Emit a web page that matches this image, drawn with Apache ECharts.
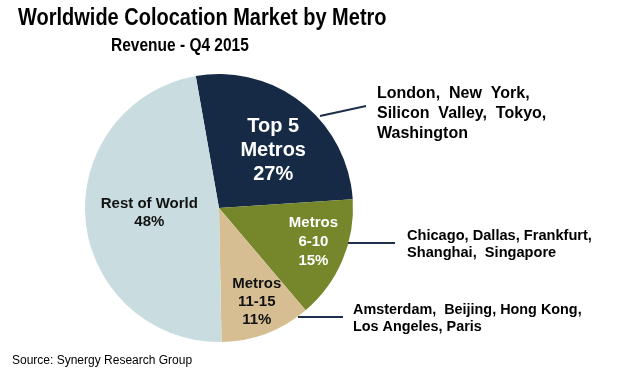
<!DOCTYPE html>
<html>
<head>
<meta charset="utf-8">
<script src="https://cdn.jsdelivr.net/npm/echarts@6/dist/echarts.min.js"></script>
<style>
html,body{margin:0;padding:0;background:#fff;}
#chart{width:632px;height:375px;}
</style>
</head>
<body>
<div id="chart"></div>
<script>
// ---- data ----
const segmentNames = ['Top 5\nMetros', 'Metros\n6-10', 'Metros\n11-15', 'Rest of World'];
const segmentShares = [27, 15, 11, 48];
const segmentColors = ['#162a46', '#76862a', '#d6be92', '#c9dde0'];
const labelColors = ['#ffffff', '#ffffff', '#111111', '#111111'];
const metroLists = [
  'London,  New  York,\nSilicon  Valley,  Tokyo,\nWashington',
  'Chicago, Dallas, Frankfurt,\nShanghai,  Singapore',
  'Amsterdam,  Beijing, Hong Kong,\nLos Angeles, Paris'
];
const titleText = 'Worldwide Colocation Market by Metro';
const subtitleText = 'Revenue - Q4 2015';
const sourceText = 'Source: Synergy Research Group';

// ---- styling / layout ----
const FONT = 'Liberation Sans, Arial, sans-serif';
const labelFontSizes = [20, 15, 15, 15];
const labelLineHeights = [24, 19, 18, 18];
const labelShift = [[11, -2], [30, 7], [13, 28], [0, -2]];

const data = segmentNames.map((n, i) => ({
  name: n,
  value: segmentShares[i],
  itemStyle: { color: segmentColors[i] },
  label: {
    color: labelColors[i],
    fontSize: labelFontSizes[i],
    lineHeight: labelLineHeights[i]
  }
}));

const annot = [
  { text: metroLists[0], x: 377, y: 84, size: 16, lh: 20, line: [[320, 116], [366, 106]] },
  { text: metroLists[1], x: 407, y: 227, size: 14.6, lh: 17.5, line: [[348, 243], [395, 243]] },
  { text: metroLists[2], x: 353, y: 301, size: 14.4, lh: 17.5, line: [[298, 317], [343, 317]] }
];
const graphics = [];
annot.forEach(a => {
  graphics.push({
    type: 'line',
    shape: { x1: a.line[0][0], y1: a.line[0][1], x2: a.line[1][0], y2: a.line[1][1] },
    style: { stroke: '#1d2f4a', lineWidth: 2 },
    z: 10
  });
  graphics.push({
    type: 'text',
    x: a.x, y: a.y,
    style: {
      text: a.text, fill: '#000', font: 'bold ' + a.size + 'px ' + FONT,
      lineHeight: a.lh, verticalAlign: 'top'
    },
    z: 10
  });
});
// title & subtitle (slightly taller glyphs as in the reference)
graphics.push({
  type: 'text', x: 18, y: 7, scaleY: 1.15,
  style: { text: titleText, fill: '#000', font: 'bold 20px ' + FONT, verticalAlign: 'top' },
  z: 10
});
graphics.push({
  type: 'text', x: 111, y: 37, scaleY: 1.15,
  style: { text: subtitleText, fill: '#000', font: 'bold 15.5px ' + FONT, verticalAlign: 'top' },
  z: 10
});
graphics.push({
  type: 'text', x: 12, y: 355,
  style: { text: sourceText, fill: '#000', font: '12px ' + FONT, verticalAlign: 'top' },
  z: 10
});

const chart = echarts.init(document.getElementById('chart'), null, { renderer: 'canvas' });
chart.setOption({
  animation: false,
  backgroundColor: '#ffffff',
  series: [{
    type: 'pie',
    center: [219, 208],
    radius: 134,
    startAngle: 100,
    clockwise: true,
    silent: true,
    data: data,
    label: {
      show: true,
      position: 'inside',
      fontFamily: FONT,
      fontWeight: 'bold',
      align: 'center',
      formatter: p => p.name + '\n' + p.value + '%'
    },
    labelLine: { show: false },
    labelLayout: p => ({ dx: labelShift[p.dataIndex][0], dy: labelShift[p.dataIndex][1] }),
    itemStyle: { borderWidth: 0 }
  }],
  graphic: graphics
});
</script>
</body>
</html>
